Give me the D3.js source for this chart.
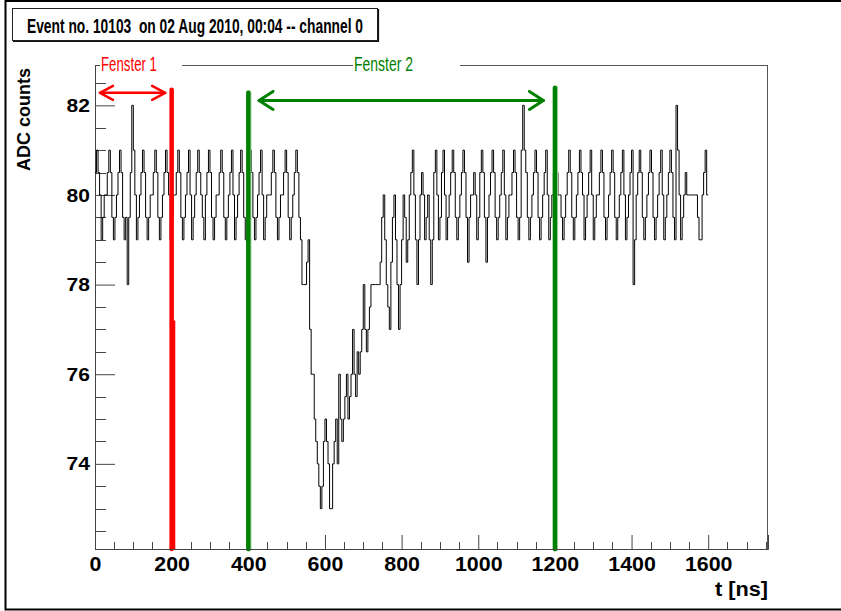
<!DOCTYPE html>
<html><head><meta charset="utf-8">
<script src="https://cdn.jsdelivr.net/npm/d3@7/dist/d3.min.js"></script>
<style>
html,body{margin:0;padding:0;background:#fff;}
svg{display:block;}
text{font-family:"Liberation Sans",Arial,sans-serif;white-space:pre;}
</style></head>
<body>
<svg id="c" width="841" height="611"></svg>
<script>
// ---------------- data ----------------
const titleText = "Event no. 10103  on 02 Aug 2010, 00:04 -- channel 0";
const xTitle = "t [ns]";
const yTitle = "ADC counts";
const binWidth = 4; // ns
const xDomain = [0, 1756];
const yDomain = [72.1, 82.9];
const xMajorTicks = [0, 200, 400, 600, 800, 1000, 1200, 1400, 1600];
const yMajorTicks = [74, 76, 78, 80, 82];
// ADC counts per 4 ns bin (rows of 80 ns)
const adc = [
 80.5,81,80.5,80,79,79.5,80,80,80.5,81,80.5,79.5,79,79.5,80,80.5,81,80.5,79.5,79,
 79.5,78,79.5,80.5,82,81,80,79,79.5,80,80.5,81,80.5,79.5,79,79.5,80,80,80.5,81,
 80.5,79.5,79,79.5,80,80.5,81,80.5,80,79,79.5,80,80,80.5,81,80.5,79.5,79,79.5,80,
 80.5,81,80,79,79.5,80,80.5,81,80.5,80,79.5,79,80,80.5,81,80.5,79.5,79,79.5,80,
 80,80.5,81,80.5,79.5,79,79.5,80,80.5,81,80,79,79.5,80,80.5,81,80.5,79.5,79,80,
 80.5,81,80.5,79.5,79,79.5,80,80.5,81,80,79,79.5,80,80,80,80.5,81,80.5,79.5,79,
 79.5,80,80,80.5,81,80.5,79.5,79,79.5,80,80.5,81,80.5,79.5,79,78,78,78,78.5,79,
 77,76,76,75,74.5,74,73.5,73,73.5,74.5,75,74.5,74,73,73,74,74.5,75,74,76,
 75,74.5,75,75.5,76,75,75.5,76,77,76,75.5,76.5,76,76.5,77,78,77,76.5,77,77.5,
 78,78,78,78,78,78,78.5,79.5,80,79,78,77.5,77,78.5,79.5,80,79,78,77,78,
 79,80,79.5,78.5,79,80,80.5,81,80,79,78,79,80,80.5,80,79,79.5,80,79,78,
 79,80.5,81,80,79,79.5,80.5,81,80,79,79.5,80,80.5,81,80.5,79.5,79,79.5,80,80.5,
 81,80.5,79.5,78.5,79.5,80,80,80.5,80,79,79.5,80.5,81,80.5,79.5,78.5,79.5,80,80.5,81,
 80.5,79.5,79,79.5,80,80.5,81,80,79,79.5,80,80,80.5,81,80.5,79.5,79,79.5,81,82,
 81,80.5,79.5,79,79.5,80,80.5,81,80.5,79.5,79,79.5,80,80.5,81,80,79,79.5,80,80.5,
 81,80.5,80,80,79.5,79,79.5,80,80.5,81,80.5,79.5,79,79.5,80,80.5,81,80.5,80,79,
 79.5,80,80.5,81,80,79,79.5,80,80,80.5,81,80.5,79.5,79,79.5,80,80.5,81,80.5,79.5,
 79,79.5,80,80.5,81,80,79,79.5,80,80.5,81,78,79,80,80.5,81,80.5,79.5,79,79.5,
 80,80.5,81,80.5,79.5,79,79.5,80,80.5,81,80,79,79.5,80,80.5,81,80.5,79.5,79,82,
 81,80,79,79.5,80,80.5,80,80,80,80,80,80,80,79.5,79,79,80,80.5,81,80
];
// analysis windows (ns) and annotation heights (ADC counts)
const windowNames = ["Fenster 1", "Fenster 2"];
const windowColors = ["#ff0000", "#008000"];
const windowStart = [0, 400];
const windowEnd = [200, 1200];
const arrowFrom = [13, 428];
const arrowTo = [183, 1170];
const arrowLevel = [82.28, 82.11];

// ---------------- drawing ----------------
const W = 841, H = 611;
const L = 95, R = 768, T = 65, B = 549;
const svg = d3.select("#c");
const x = d3.scaleLinear().domain(xDomain).range([L, R]);
const y = d3.scaleLinear().domain(yDomain).range([B, T]);

// outer canvas border
svg.append("path").attr("d", `M${W},1 H5.5 V609.5 H${W}`)
  .attr("fill", "none").attr("stroke", "#000").attr("stroke-width", 2);

// title box
svg.append("rect").attr("x", 12.5).attr("y", 8.5).attr("width", 365).attr("height", 32)
  .attr("fill", "#fff").attr("stroke", "#222").attr("stroke-width", 1);
svg.append("path").attr("d", "M13,41.5 H378.5 V9").attr("fill", "none").attr("stroke", "#111").attr("stroke-width", 1.2);
svg.append("text").attr("x", 27).attr("y", 32.5)
  .attr("font-family", "'Liberation Sans Narrow','Liberation Sans',Arial,sans-serif")
  .attr("font-weight", "bold").attr("font-size", 20)
  .attr("textLength", 336).attr("lengthAdjust", "spacingAndGlyphs")
  .text(titleText);

// frame
svg.append("rect").attr("x", L + 0.5).attr("y", T + 0.5).attr("width", R - L - 1).attr("height", B - T)
  .attr("fill", "none").attr("stroke", "#555").attr("stroke-width", 1);

// x axis
const xMinor = d3.range(xDomain[0], xDomain[1], 50).filter(v => !xMajorTicks.includes(v));
const gx = svg.append("g").attr("transform", `translate(0,${B})`);
gx.selectAll("line.minor").data(xMinor).join("line")
  .attr("x1", d => Math.round(x(d)) + 0.5).attr("x2", d => Math.round(x(d)) + 0.5)
  .attr("y1", 0).attr("y2", -7).attr("stroke", "#444");
const xAxis = d3.axisBottom(x).tickValues(xMajorTicks).tickSize(-14).tickPadding(8).tickFormat(d3.format("d"));
gx.call(xAxis);
gx.select(".domain").attr("stroke", "#444");
gx.selectAll(".tick line").attr("stroke", "#444");
gx.selectAll(".tick text").attr("font-size", 20).attr("font-weight", "bold")
  .attr("font-family", "'Liberation Sans',Arial,sans-serif").attr("fill", "#000")
  .attr("textLength", d => String(d).length * 11.9).attr("lengthAdjust", "spacingAndGlyphs");

// y axis
const yMinor = d3.range(72.5, 83, 0.5).filter(v => !yMajorTicks.includes(v));
const gy = svg.append("g").attr("transform", `translate(${L},0)`);
gy.selectAll("line.minor").data(yMinor).join("line")
  .attr("y1", d => Math.round(y(d)) + 0.5).attr("y2", d => Math.round(y(d)) + 0.5)
  .attr("x1", 0).attr("x2", 11).attr("stroke", "#444");
const yAxis = d3.axisLeft(y).tickValues(yMajorTicks).tickSize(-20).tickPadding(5).tickFormat(d3.format("d"));
gy.call(yAxis);
gy.select(".domain").attr("stroke", "#444");
gy.selectAll(".tick line").attr("stroke", "#444");
gy.selectAll(".tick text").attr("font-size", 19).attr("font-weight", "bold")
  .attr("font-family", "'Liberation Sans',Arial,sans-serif").attr("fill", "#000")
  .attr("textLength", d => String(d).length * 11.7).attr("lengthAdjust", "spacingAndGlyphs");

// axis titles
svg.append("text").attr("x", R).attr("y", 596).attr("text-anchor", "end")
  .attr("font-size", 20).attr("font-weight", "bold").attr("textLength", 53).attr("lengthAdjust", "spacingAndGlyphs")
  .text(xTitle);
svg.append("text").attr("transform", `translate(30,${T + 3}) rotate(-90)`).attr("text-anchor", "end")
  .attr("font-size", 18).attr("font-weight", "bold")
  .text(yTitle);

// waveform (histogram step line)
const pts = adc.map((v, i) => [i * binWidth, v]);
pts.push([adc.length * binWidth, adc[adc.length - 1]]);
const line = d3.line().x(d => x(d[0])).y(d => y(d[1])).curve(d3.curveStepAfter);
svg.append("path").attr("d", line(pts)).attr("fill", "none").attr("stroke", "#000").attr("stroke-width", 1);

// window markers
const redTop = 82.35;
svg.append("line").attr("x1", x(windowEnd[0])).attr("x2", x(windowEnd[0]))
  .attr("y1", y(yDomain[0])).attr("y2", y(redTop)).attr("stroke", windowColors[0])
  .attr("stroke-width", 4.5).attr("stroke-linecap", "round");
svg.append("line").attr("x1", x(windowEnd[0] + 4)).attr("x2", x(windowEnd[0] + 4))
  .attr("y1", y(yDomain[0])).attr("y2", y(77.2)).attr("stroke", windowColors[0])
  .attr("stroke-width", 4.2);
const greenTops = [82.28, 82.39];
[windowStart[1], windowEnd[1]].forEach((t, i) => {
  svg.append("line").attr("x1", x(t) + 0.6).attr("x2", x(t) + 0.6)
    .attr("y1", y(yDomain[0])).attr("y2", y(greenTops[i])).attr("stroke", "#9fd89f")
    .attr("stroke-width", 5.2).attr("stroke-linecap", "round");
  svg.append("line").attr("x1", x(t)).attr("x2", x(t))
    .attr("y1", y(yDomain[0])).attr("y2", y(greenTops[i])).attr("stroke", windowColors[1])
    .attr("stroke-width", 4.4).attr("stroke-linecap", "round");
});
svg.append("line").attr("x1", L).attr("x2", R).attr("y1", B + 0.5).attr("y2", B + 0.5).attr("stroke", "#444");

// double arrows
const heads = [[13, 7, 2.5], [14, 9, 3]];
windowNames.forEach((n, i) => {
  const x0 = x(arrowFrom[i]), x1 = x(arrowTo[i]), yy = y(arrowLevel[i]);
  const [hl, hw, sw] = heads[i];
  const g = svg.append("g").attr("fill", "none").attr("stroke", windowColors[i])
    .attr("stroke-width", sw).attr("stroke-linecap", "round").attr("stroke-linejoin", "round");
  g.append("line").attr("x1", x0).attr("x2", x1).attr("y1", yy).attr("y2", yy);
  g.append("path").attr("d", `M${x0 + hl},${yy - hw} L${x0},${yy} L${x0 + hl},${yy + hw}`);
  g.append("path").attr("d", `M${x1 - hl},${yy - hw} L${x1},${yy} L${x1 - hl},${yy + hw}`);
});

// window labels over the top frame line
const labelBoxes = [[100, 182], [353, 460]];
const labelText = [[101, 56], [354, 59]];
windowNames.forEach((n, i) => {
  svg.append("rect").attr("x", labelBoxes[i][0]).attr("y", 53).attr("width", labelBoxes[i][1] - labelBoxes[i][0])
    .attr("height", 20).attr("fill", "#fff");
  svg.append("text").attr("x", labelText[i][0]).attr("y", 71)
    .attr("font-family", "'Liberation Sans Narrow','Liberation Sans',Arial,sans-serif")
    .attr("font-size", 21).attr("fill", windowColors[i])
    .attr("textLength", labelText[i][1]).attr("lengthAdjust", "spacingAndGlyphs")
    .text(n);
});
</script>
</body></html>
